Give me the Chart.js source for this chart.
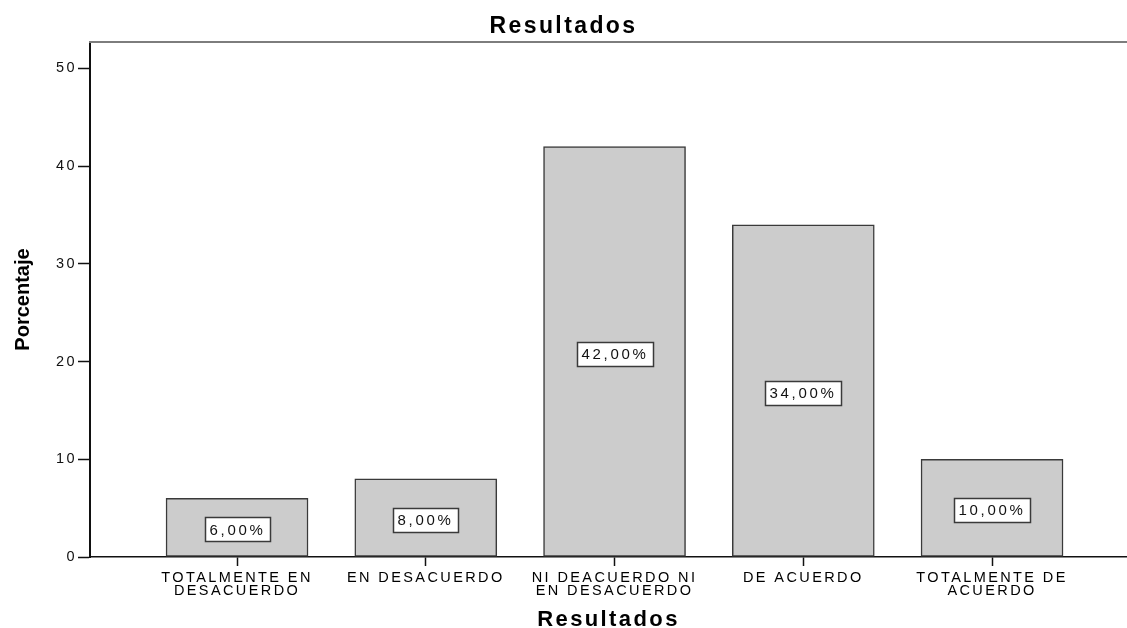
<!DOCTYPE html>
<html>
<head>
<meta charset="utf-8">
<script src="https://cdn.jsdelivr.net/npm/chart.js@4/dist/chart.umd.min.js"></script>
<style>
  html, body { margin: 0; padding: 0; background: #ffffff; }
  #chart { display: block; }
</style>
</head>
<body>
<canvas id="chart" width="1127" height="628"></canvas>
<script>
// Response categories and their share of answers (%)
const categories = [
  'TOTALMENTE EN DESACUERDO',
  'EN DESACUERDO',
  'NI DEACUERDO NI EN DESACUERDO',
  'DE ACUERDO',
  'TOTALMENTE DE ACUERDO'
];
const tickLabels = [
  ['TOTALMENTE EN', 'DESACUERDO'],
  ['EN DESACUERDO'],
  ['NI DEACUERDO NI', 'EN DESACUERDO'],
  ['DE ACUERDO'],
  ['TOTALMENTE DE', 'ACUERDO']
];
const percentages = [6, 8, 42, 34, 10];
const yTicks = [0, 10, 20, 30, 40, 50];
const yMax = 52.7;
const xMin = -0.779;
const xMax = 4.715;

const FONT = "'Liberation Sans', Arial, Helvetica, sans-serif";
const SPACING = '2.4px';

const formatPct = v => v.toFixed(2).replace('.', ',') + '%';

// Wide lettering for the library-drawn text
const spacingPlugin = {
  id: 'spacing',
  beforeLayout(chart) { chart.ctx.letterSpacing = SPACING; },
  beforeDraw(chart) { chart.ctx.letterSpacing = SPACING; }
};

// Plot frame top edge, boxed value labels and the vertical axis title
const decorPlugin = {
  id: 'decor',
  afterDraw(chart) {
    const ctx = chart.ctx;
    const area = chart.chartArea;
    ctx.save();
    ctx.strokeStyle = '#7d7d7d';
    ctx.lineWidth = 2;
    ctx.beginPath();
    ctx.moveTo(area.left - 1, area.top);
    ctx.lineTo(area.right, area.top);
    ctx.stroke();

    const meta = chart.getDatasetMeta(0);
    ctx.font = '15px ' + FONT;
    ctx.letterSpacing = '2.7px';
    ctx.textBaseline = 'middle';
    ctx.textAlign = 'left';
    meta.data.forEach((bar, i) => {
      const p = bar.getProps(['x', 'y', 'base'], true);
      const text = formatPct(percentages[i]);
      const w = ctx.measureText(text).width;
      const bw = Math.round(w + 9);
      const bh = 24;
      const cy = (p.y + p.base) / 2 + 2;
      const left = Math.round(p.x - bw / 2) + 0.5;
      const top = Math.round(cy - bh / 2) + 0.5;
      ctx.fillStyle = '#ffffff';
      ctx.fillRect(left, top, bw, bh);
      ctx.strokeStyle = '#3a3a3a';
      ctx.lineWidth = 1.5;
      ctx.strokeRect(left, top, bw, bh);
      ctx.fillStyle = '#111111';
      ctx.fillText(text, left + 4, cy + 1);
    });

    ctx.letterSpacing = '0px';
    ctx.translate(23, (area.top + area.bottom) / 2);
    ctx.rotate(-Math.PI / 2);
    ctx.font = 'bold 20px ' + FONT;
    ctx.textAlign = 'center';
    ctx.textBaseline = 'middle';
    ctx.fillStyle = '#000000';
    ctx.fillText('Porcentaje', 0, 0);
    ctx.restore();
  }
};

new Chart(document.getElementById('chart'), {
  type: 'bar',
  data: {
    labels: categories,
    datasets: [{
      label: 'Porcentaje',
      data: percentages.map((v, i) => ({ x: i, y: v })),
      backgroundColor: '#cccccc',
      borderColor: '#3a3a3a',
      borderWidth: 1.5,
      borderSkipped: false,
      barThickness: 142
    }]
  },
  options: {
    responsive: false,
    animation: false,
    events: [],
    layout: { padding: 0 },
    plugins: {
      legend: { display: false },
      tooltip: { enabled: false },
      title: {
        display: true,
        text: 'Resultados',
        color: '#000000',
        font: { family: FONT, size: 23, weight: 'bold', lineHeight: 1.2 },
        padding: { top: 13, bottom: 1.4 }
      }
    },
    scales: {
      x: {
        type: 'linear',
        min: xMin,
        max: xMax,
        offset: false,
        afterBuildTicks(scale) {
          scale.ticks = tickLabels.map((_, i) => ({ value: i }));
        },
        afterFit(scale) { scale.height = 71; },
        ticks: {
          autoSkip: false,
          maxRotation: 0,
          padding: 5,
          color: '#000000',
          font: { family: FONT, size: 14.5, lineHeight: 0.9 },
          callback: v => tickLabels[v]
        },
        grid: {
          offset: false,
          drawOnChartArea: false,
          drawTicks: true,
          tickLength: 9,
          tickWidth: 1.5,
          tickColor: '#111111'
        },
        border: { display: true, color: '#111111', width: 1.5 },
        title: {
          display: true,
          text: 'Resultados',
          color: '#000000',
          font: { family: FONT, size: 22, weight: 'bold', lineHeight: 0.7 },
          padding: 0
        }
      },
      y: {
        min: 0,
        max: yMax,
        afterBuildTicks(scale) {
          scale.ticks = yTicks.map(v => ({ value: v }));
        },
        afterFit(scale) { scale.width = 90; },
        ticks: {
          padding: 1,
          color: '#111111',
          font: { family: FONT, size: 14.5 },
          callback: v => String(v)
        },
        grid: {
          drawOnChartArea: false,
          drawTicks: true,
          tickLength: 12,
          tickWidth: 1.5,
          tickColor: '#111111'
        },
        border: { display: true, color: '#111111', width: 2 }
      }
    }
  },
  plugins: [spacingPlugin, decorPlugin]
});
</script>
</body>
</html>
